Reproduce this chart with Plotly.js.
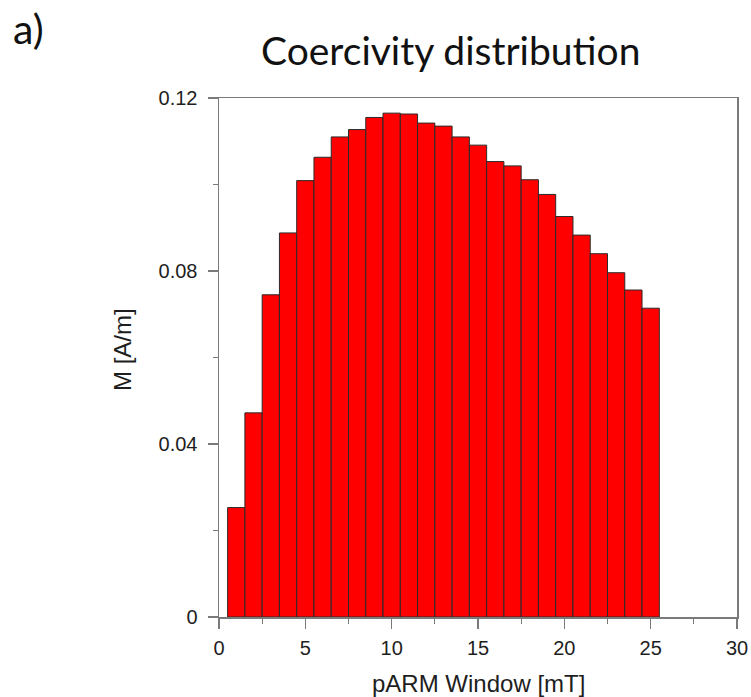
<!DOCTYPE html>
<html>
<head>
<meta charset="utf-8">
<script src="https://cdn.plot.ly/plotly-3.0.1.min.js"></script>
<style>
  html, body { margin: 0; padding: 0; background: #ffffff; }
  #chart { width: 751px; height: 697px; }
  svg text { font-variant-ligatures: none; }
</style>
</head>
<body>
<div id="chart"></div>
<script>
// pARM coercivity windows (mT, bin centres) and magnetisation per window (A/m)
const windowCentres = [1, 2, 3, 4, 5, 6, 7, 8, 9, 10, 11, 12, 13, 14, 15, 16, 17, 18, 19, 20, 21, 22, 23, 24, 25];
const magnetisation = [
  0.0253, 0.0472, 0.0745, 0.0888, 0.1009, 0.1063, 0.1110, 0.1127, 0.1155, 0.1165,
  0.1163, 0.1142, 0.1135, 0.1110, 0.1091, 0.1053, 0.1043, 0.1011, 0.0977, 0.0926,
  0.0883, 0.0840, 0.0796, 0.0756, 0.0714
];
const yTickValues = [0, 0.04, 0.08, 0.12];
const yTickLabels = ['0', '0.04', '0.08', '0.12'];
const xTickValues = [0, 5, 10, 15, 20, 25, 30];
const xTickLabels = ['0', '5', '10', '15', '20', '25', '30'];

const axisGrey = '#7a7a7a';
const tickFont = { family: 'Liberation Sans, Arial, sans-serif', size: 20, color: '#1e1e1e' };
const axisTitleFont = { family: 'Liberation Sans, Arial, sans-serif', size: 24, color: '#1e1e1e' };

const trace = {
  type: 'bar',
  x: windowCentres,
  y: magnetisation,
  width: 1,
  marker: { color: '#ff0000', line: { color: '#2a2a2a', width: 1 } },
  hoverinfo: 'x+y'
};

const layout = {
  width: 751,
  height: 697,
  margin: { l: 219, r: 14, t: 98, b: 80 },
  paper_bgcolor: '#ffffff',
  plot_bgcolor: '#ffffff',
  showlegend: false,
  bargap: 0,
  xaxis: {
    range: [0, 30],
    showgrid: false,
    zeroline: false,
    showline: true,
    mirror: true,
    linecolor: axisGrey,
    linewidth: 1.5,
    ticks: 'outside',
    ticklen: 10,
    tickwidth: 1.5,
    tickcolor: axisGrey,
    tickvals: xTickValues,
    ticktext: xTickLabels,
    tickfont: tickFont,
    ticklabelstandoff: 2,
    minor: { dtick: 2.5, tick0: 0, ticks: 'outside', ticklen: 5, tickwidth: 1.2, tickcolor: axisGrey, showgrid: false }
  },
  yaxis: {
    range: [0, 0.12],
    showgrid: false,
    zeroline: false,
    showline: true,
    mirror: true,
    linecolor: axisGrey,
    linewidth: 1.5,
    ticks: 'outside',
    ticklen: 10,
    tickwidth: 1.5,
    tickcolor: axisGrey,
    tickvals: yTickValues,
    ticktext: yTickLabels,
    tickfont: tickFont,
    ticklabelstandoff: 6,
    minor: { dtick: 0.02, tick0: 0, ticks: 'outside', ticklen: 5, tickwidth: 1.2, tickcolor: axisGrey, showgrid: false }
  },
  annotations: [
    {
      text: 'Coercivity distribution',
      xref: 'paper', yref: 'paper',
      x: 0.446, y: 1.0925,
      xanchor: 'center', yanchor: 'middle',
      showarrow: false,
      font: { family: 'Lato, Noto Sans, sans-serif', size: 39, color: '#111111' }
    },
    {
      text: 'a)',
      xref: 'paper', yref: 'paper',
      x: -0.4015, y: 1.133,
      xanchor: 'left', yanchor: 'middle',
      showarrow: false,
      font: { family: 'Lato, Noto Sans, sans-serif', size: 41, color: '#111111' }
    },
    {
      text: 'pARM Window [mT]',
      xref: 'paper', yref: 'paper',
      x: 0.5, y: -0.128,
      xanchor: 'center', yanchor: 'middle',
      showarrow: false,
      font: axisTitleFont
    },
    {
      text: 'M [A/m]',
      xref: 'paper', yref: 'paper',
      x: -0.1853, y: 0.5145,
      xanchor: 'center', yanchor: 'middle',
      textangle: -90,
      showarrow: false,
      font: axisTitleFont
    }
  ]
};

Plotly.newPlot('chart', [trace], layout, { displayModeBar: false, staticPlot: true });
</script>
</body>
</html>
